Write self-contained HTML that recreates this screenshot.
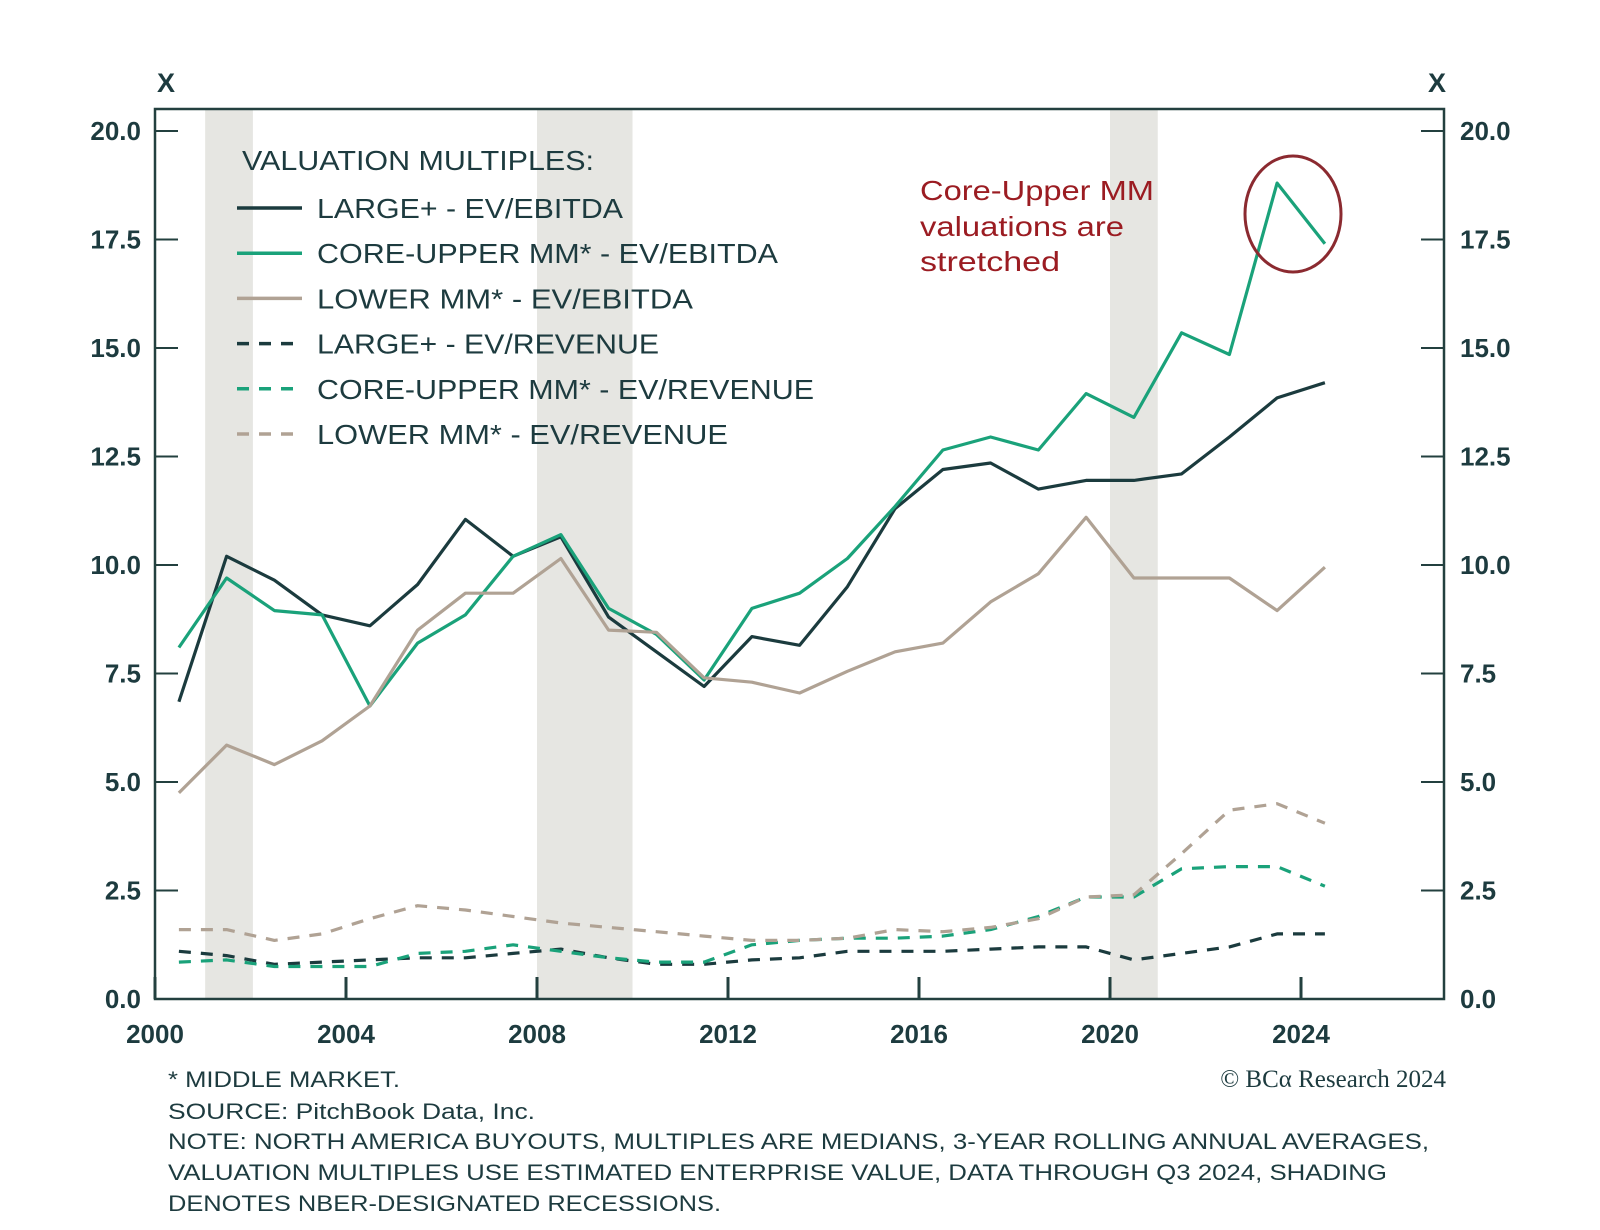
<!DOCTYPE html>
<html><head><meta charset="utf-8"><style>
html,body{margin:0;padding:0;background:#fff;width:1600px;height:1230px;overflow:hidden}
svg{display:block}
text{font-family:"Liberation Sans",sans-serif;fill:#1d3b3f}
</style></head><body>
<svg id="chart" width="1600" height="1230" viewBox="0 0 1600 1230">
<g id="shade"></g>
<g id="grid"></g>
<g id="series"></g>
<g id="legend"></g>
<g>
<text x="920" y="200" font-size="28" textLength="234" lengthAdjust="spacingAndGlyphs" style="fill:#9b1c22">Core-Upper MM</text>
<text x="920" y="236" font-size="28" textLength="204" lengthAdjust="spacingAndGlyphs" style="fill:#9b1c22">valuations are</text>
<text x="920" y="271" font-size="28" textLength="140" lengthAdjust="spacingAndGlyphs" style="fill:#9b1c22">stretched</text>
<ellipse cx="1293" cy="214" rx="48" ry="58" fill="none" stroke="#8b2a30" stroke-width="3"/>
</g>
<g>
<text x="168" y="1087" font-size="22" textLength="232" lengthAdjust="spacingAndGlyphs">* MIDDLE MARKET.</text>
<text x="168" y="1119" font-size="22" textLength="367" lengthAdjust="spacingAndGlyphs">SOURCE: PitchBook Data, Inc.</text>
<text x="168" y="1149" font-size="22" textLength="1261" lengthAdjust="spacingAndGlyphs">NOTE: NORTH AMERICA BUYOUTS, MULTIPLES ARE MEDIANS, 3-YEAR ROLLING ANNUAL AVERAGES,</text>
<text x="168" y="1180" font-size="22" textLength="1219" lengthAdjust="spacingAndGlyphs">VALUATION MULTIPLES USE ESTIMATED ENTERPRISE VALUE, DATA THROUGH Q3 2024, SHADING</text>
<text x="168" y="1211" font-size="22" textLength="553" lengthAdjust="spacingAndGlyphs">DENOTES NBER-DESIGNATED RECESSIONS.</text>
<text x="1446" y="1087" font-size="25" text-anchor="end" style="font-family:'Liberation Serif',serif">© BCα Research 2024</text>
</g>
</svg>
<script>
const years=[2000.5,2001.5,2002.5,2003.5,2004.5,2005.5,2006.5,2007.5,2008.5,2009.5,2010.5,2011.5,2012.5,2013.5,2014.5,2015.5,2016.5,2017.5,2018.5,2019.5,2020.5,2021.5,2022.5,2023.5,2024.5];
const largeEbitda=[6.85,10.2,9.65,8.85,8.6,9.55,11.05,10.2,10.65,8.8,8.0,7.2,8.35,8.15,9.5,11.3,12.2,12.35,11.75,11.95,11.95,12.1,12.95,13.85,14.2];
const coreEbitda=[8.1,9.7,8.95,8.85,6.75,8.2,8.85,10.2,10.7,9.0,8.4,7.35,9.0,9.35,10.15,11.35,12.65,12.95,12.65,13.95,13.4,15.35,14.85,18.8,17.4];
const lowerEbitda=[4.75,5.85,5.4,5.95,6.75,8.5,9.35,9.35,10.15,8.5,8.45,7.4,7.3,7.05,7.55,8.0,8.2,9.15,9.8,11.1,9.7,9.7,9.7,8.95,9.95];
const largeRev=[1.1,1.0,0.8,0.85,0.9,0.95,0.95,1.05,1.15,0.95,0.8,0.8,0.9,0.95,1.1,1.1,1.1,1.15,1.2,1.2,0.9,1.05,1.2,1.5,1.5];
const coreRev=[0.85,0.9,0.75,0.75,0.75,1.05,1.1,1.25,1.1,0.95,0.85,0.85,1.25,1.35,1.4,1.4,1.45,1.6,1.9,2.35,2.35,3.0,3.05,3.05,2.6];
const lowerRev=[1.6,1.6,1.35,1.5,1.85,2.15,2.05,1.9,1.75,1.65,1.55,1.45,1.35,1.35,1.4,1.6,1.55,1.65,1.85,2.35,2.4,3.35,4.35,4.5,4.05];
const yTicks=[0,2.5,5,7.5,10,12.5,15,17.5,20];
const xTicks=[2000,2004,2008,2012,2016,2020,2024];
const recessions=[[2001.05,2002.05],[2008.0,2010.0],[2020.0,2021.0]];
const legendLabels=["LARGE+ - EV/EBITDA","CORE-UPPER MM* - EV/EBITDA","LOWER MM* - EV/EBITDA","LARGE+ - EV/REVENUE","CORE-UPPER MM* - EV/REVENUE","LOWER MM* - EV/REVENUE"];
const legendWidths=[306,461,376,342,497,411];

const L=155,R=1444,T=109,B=999;
const X=v=>155+(v-2000)*(1301-155)/24;
const Y=v=>999-v*(999-131)/20;
const NS="http://www.w3.org/2000/svg";
function mk(parent,tag,attrs,text){const e=document.createElementNS(NS,tag);for(const k in attrs)e.setAttribute(k,attrs[k]);if(text!==undefined)e.textContent=text;document.getElementById(parent).appendChild(e);return e;}
const dark="#1b3b3e",green="#1aa27a",tan="#b0a294",ax="#23403f";

recessions.forEach(r=>{const e=mk('shade','rect',{x:X(r[0]),y:T,width:X(r[1])-X(r[0]),height:B-T,fill:'#e6e6e2'});

});

let f=mk('grid','rect',{x:L,y:T,width:R-L,height:B-T,fill:'none',stroke:ax,'stroke-width':2.5});


yTicks.forEach(v=>{
 mk('grid','line',{x1:L,x2:L+23,y1:Y(v),y2:Y(v),stroke:ax,'stroke-width':2});
 mk('grid','line',{x1:R-23,x2:R,y1:Y(v),y2:Y(v),stroke:ax,'stroke-width':2});
 let t=mk('grid','text',{x:141,y:Y(v)+9,'font-size':26,'font-weight':'bold','text-anchor':'end'},v.toFixed(1));
 
 
 let t2=mk('grid','text',{x:1460,y:Y(v)+9,'font-size':26,'font-weight':'bold'},v.toFixed(1));
 
 
});
xTicks.forEach(v=>{
 mk('grid','line',{x1:X(v),x2:X(v),y1:B,y2:B-22,stroke:ax,'stroke-width':3});
 let t=mk('grid','text',{x:X(v),y:1043,'font-size':26,'font-weight':'bold','text-anchor':'middle'},String(v));
 
 
});
let xl=mk('grid','text',{x:166,y:92,'font-size':27,'font-weight':'bold','text-anchor':'middle'},'X');


let xr=mk('grid','text',{x:1437,y:92,'font-size':27,'font-weight':'bold','text-anchor':'middle'},'X');



const series=[[largeEbitda,dark,null],[coreEbitda,green,null],[lowerEbitda,tan,null],[largeRev,dark,'12 10'],[coreRev,green,'12 10'],[lowerRev,tan,'12 10']];
const names=['line-large-ev-ebitda','line-core-upper-ev-ebitda','line-lower-ev-ebitda','line-large-ev-revenue','line-core-upper-ev-revenue','line-lower-ev-revenue'];
series.forEach((s,i)=>{
 const d=s[0].map((v,j)=>(j?'L':'M')+X(years[j]).toFixed(1)+','+Y(v).toFixed(1)).join(' ');
 const a={d:d,fill:'none',stroke:s[1],'stroke-width':3.2,'stroke-linejoin':'round'};
 if(s[2])a['stroke-dasharray']=s[2];
 const p=mk('series','path',a);
 
 
});

let lt=mk('legend','text',{x:242,y:170,'font-size':28,textLength:352,lengthAdjust:'spacingAndGlyphs'},'VALUATION MULTIPLES:');


legendLabels.forEach((lab,i)=>{
 const y=208+i*45.2;
 const a={x1:237,x2:302,y1:y,y2:y,stroke:series[i][1],'stroke-width':3.5};
 if(series[i][2])a['stroke-dasharray']='12 10';
 mk('legend','line',a);
 const t=mk('legend','text',{x:317,y:y+10,'font-size':28,textLength:legendWidths[i],lengthAdjust:'spacingAndGlyphs'},lab);
 
 
});
</script>
</body></html>
